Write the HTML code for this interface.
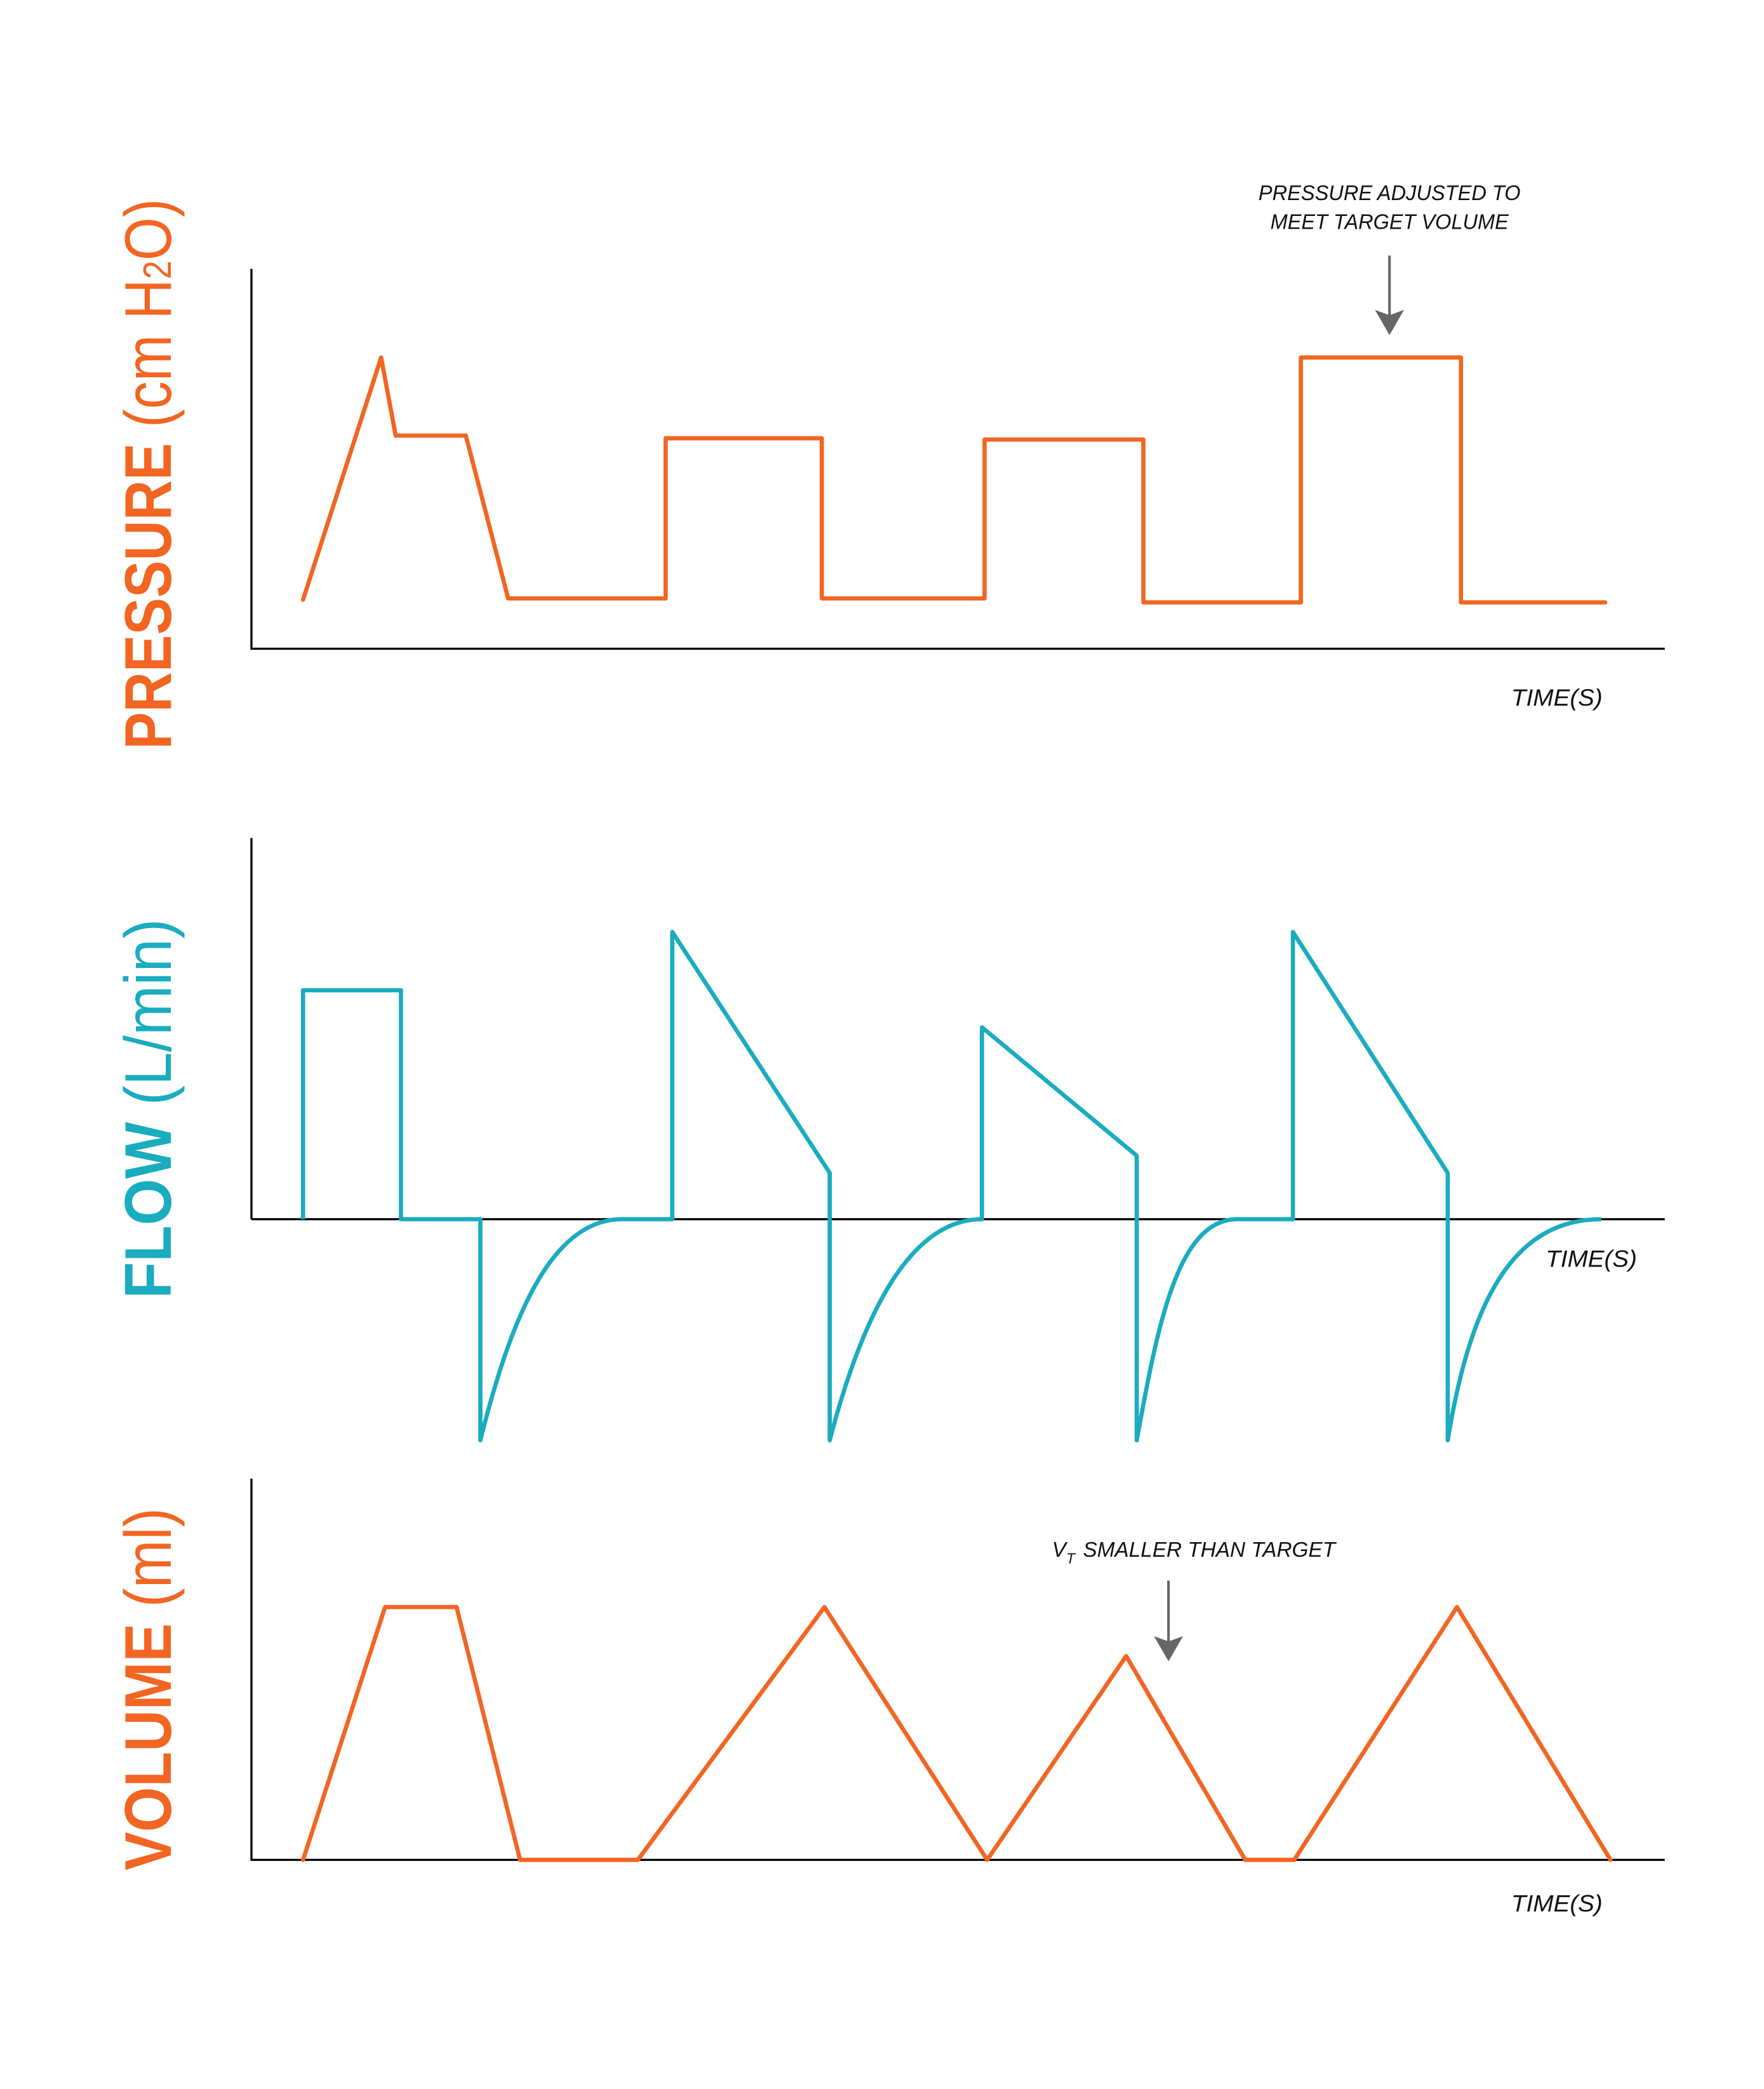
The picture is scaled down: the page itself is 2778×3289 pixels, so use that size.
<!DOCTYPE html>
<html><head><meta charset="utf-8"><style>html,body{margin:0;padding:0;background:#fff}svg{display:block}</style></head>
<body>
<svg width="2778" height="3289" viewBox="0 0 1333 1578" xmlns="http://www.w3.org/2000/svg">
<rect width="1333" height="1578" fill="#fff"/>
<defs><marker id="ah" viewBox="0 0 10 12" refX="5" refY="12" markerWidth="10" markerHeight="12" markerUnits="userSpaceOnUse" orient="auto-start-reverse"></marker></defs>
<g fill="none" stroke="#000" stroke-width="1.6">
<polyline points="190,203 190,490 1258,490"/>
<polyline points="190,633 190,921"/>
<line x1="190" y1="921" x2="1258" y2="921"/>
<polyline points="190,1117 190,1405 1258,1405"/>
</g>
<g fill="none" stroke="#F26522" stroke-width="3.2" stroke-linejoin="round" stroke-linecap="round">
<polyline points="229,453 288,270 299,329 352,329 384,452 503,452 503,331 621,331 621,452 744,452 744,332 864,332 864,455 983,455 983,270 1104,270 1104,455 1213,455"/>
<polyline points="229,1405 291,1214 345,1214 393,1405 482,1405 623,1214 746,1405 851,1251 941,1405 978,1405 1101,1214 1217,1405"/>
</g>
<path fill="none" stroke="#1AACBF" stroke-width="3.2" stroke-linejoin="round" d="M229,921 V748 H303 V921 H363 V1088 C385,1000 415,921 470,921 H508 V704 L627,886 V1088 C650,1000 685,921 742,921 V776 L859,873 V1088 C875,1000 890,921 935,921 H977 V704 L1094,886 V1088 C1110,990 1140,921 1210,921"/>
<g stroke="#666" stroke-width="2" fill="#666">
<line x1="1050" y1="193" x2="1050" y2="240"/>
<path d="M1039,234 L1050,238 L1061,234 L1050,253 Z" stroke="none"/>
<line x1="883" y1="1194" x2="883" y2="1242"/>
<path d="M872,1236 L883,1240 L894,1236 L883,1255 Z" stroke="none"/>
</g>
<g font-family="Liberation Sans, sans-serif" font-style="italic" font-size="16" fill="#111">
<text x="1050" y="151" text-anchor="middle" textLength="198" lengthAdjust="spacingAndGlyphs">PRESSURE ADJUSTED TO</text>
<text x="1050" y="173" text-anchor="middle" textLength="180" lengthAdjust="spacingAndGlyphs">MEET TARGET VOLUME</text>
<text x="1142" y="533" textLength="69" lengthAdjust="spacingAndGlyphs" font-size="18">TIME(S)</text>
<text x="1168" y="957" textLength="69" lengthAdjust="spacingAndGlyphs" font-size="18">TIME(S)</text>
<text x="1142" y="1444" textLength="69" lengthAdjust="spacingAndGlyphs" font-size="18">TIME(S)</text>
<text x="795" y="1176">V<tspan font-size="11" dy="5">T</tspan><tspan dy="-5" dx="6">SMALLER THAN TARGET</tspan></text>
</g>
<g font-family="Liberation Sans, sans-serif" font-size="50">
<text transform="translate(129,566) rotate(-90)" fill="#F26522" textLength="416" lengthAdjust="spacingAndGlyphs"><tspan font-weight="bold">PRESSURE</tspan> (cm H<tspan font-size="30">2</tspan>O)</text>
<text transform="translate(129,981) rotate(-90)" fill="#1AACBF" textLength="287" lengthAdjust="spacingAndGlyphs"><tspan font-weight="bold">FLOW</tspan> (L/min)</text>
<text transform="translate(129,1413) rotate(-90)" fill="#F26522" textLength="274" lengthAdjust="spacingAndGlyphs"><tspan font-weight="bold">VOLUME</tspan> (ml)</text>
</g>
</svg>
</body></html>
